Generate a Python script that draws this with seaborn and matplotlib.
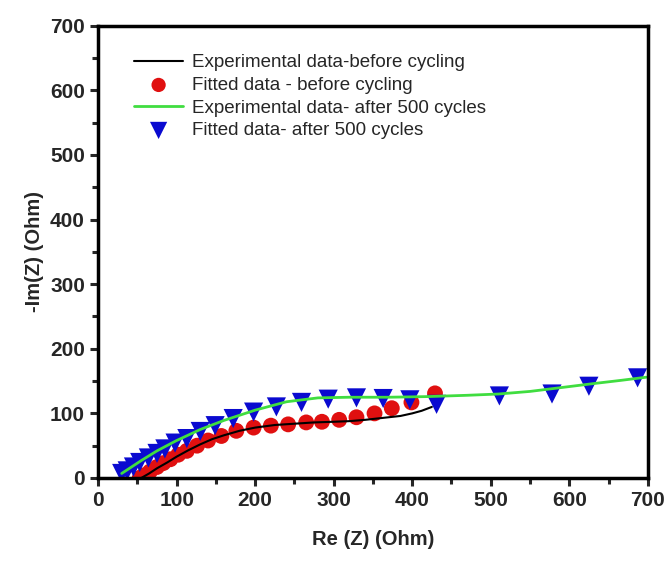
import matplotlib
matplotlib.use("Agg")
import matplotlib.pyplot as plt
import seaborn as sns
import pandas as pd
from matplotlib.ticker import MultipleLocator

# Experimental data - before cycling (black line)
exp_before_x = [55, 65, 75, 88, 100, 115, 130, 145, 160, 180, 200, 225, 250, 275, 300, 320, 340, 355, 370, 385, 400, 412, 425]
exp_before_y = [0, 7, 15, 24, 33, 43, 52, 60, 66, 73, 78, 82, 84, 86, 87, 88, 90, 92, 94, 96, 100, 104, 110]

# Fitted data - before cycling (red circles)
fit_before_x = [53, 58, 66, 75, 83, 92, 102, 113, 126, 140, 157, 176, 198, 220, 242, 265, 285, 307, 329, 352, 374, 399, 429]
fit_before_y = [0, 4, 10, 17, 23, 29, 36, 42, 50, 58, 65, 73, 78, 81, 83, 86, 87, 90, 94, 100, 108, 117, 131]

# Experimental data - after 500 cycles (green line)
exp_after_x = [30, 40, 55, 75, 100, 130, 160, 200, 240, 280, 320, 370, 420, 470, 510, 550, 590, 630, 665, 698]
exp_after_y = [7, 15, 27, 42, 58, 75, 89, 105, 118, 124, 125, 125, 126, 128, 130, 134, 140, 146, 151, 156]

# Fitted data - after 500 cycles (blue triangles)
fit_after_x = [30, 37, 45, 53, 64, 75, 85, 98, 113, 130, 149, 172, 198, 227, 259, 293, 329, 363, 397, 431, 511, 578, 625, 687]
fit_after_y = [7, 11, 17, 24, 31, 38, 45, 54, 61, 72, 81, 92, 102, 110, 117, 122, 124, 123, 121, 114, 127, 130, 142, 155]

plt.rcdefaults()
sns.set_style("white")
plt.rcParams["font.family"] = ["Liberation Sans", "DejaVu Sans"]

fig = plt.figure(figsize=(6.72, 5.61), dpi=100)
ax = fig.add_axes([0.146, 0.148, 0.818, 0.806])

df_eb = pd.DataFrame({"x": exp_before_x, "y": exp_before_y})
df_fb = pd.DataFrame({"x": fit_before_x, "y": fit_before_y})
df_ea = pd.DataFrame({"x": exp_after_x, "y": exp_after_y})
df_fa = pd.DataFrame({"x": fit_after_x, "y": fit_after_y})

sns.lineplot(data=df_eb, x="x", y="y", sort=False, color="black", lw=1.5,
             ax=ax, label="Experimental data-before cycling")
sns.scatterplot(data=df_fb, x="x", y="y", color="#e01010", marker="o", s=130,
                edgecolor="none", ax=ax, label="Fitted data - before cycling")
sns.lineplot(data=df_ea, x="x", y="y", sort=False, color="#40dd40", lw=2,
             ax=ax, label="Experimental data- after 500 cycles")
sns.scatterplot(data=df_fa, x="x", y="y", color="#0a0ad0", marker="v", s=190,
                edgecolor="none", ax=ax, label="Fitted data- after 500 cycles")

ax.set_xlim(0, 700)
ax.set_ylim(0, 700)
ax.xaxis.set_major_locator(MultipleLocator(100))
ax.xaxis.set_minor_locator(MultipleLocator(50))
ax.yaxis.set_major_locator(MultipleLocator(100))
ax.yaxis.set_minor_locator(MultipleLocator(50))
ax.tick_params(which="major", direction="out", length=6, width=2.2,
               labelsize=15, bottom=True, left=True)
ax.tick_params(which="minor", direction="out", length=4, width=2.2,
               bottom=True, left=True)
for lab in ax.get_xticklabels() + ax.get_yticklabels():
    lab.set_fontweight("bold")

for sp in ax.spines.values():
    sp.set_linewidth(2.5)
    sp.set_color("black")

ax.set_xlabel("Re (Z) (Ohm)", fontsize=14.5, fontweight="bold", labelpad=14)
ax.set_ylabel("-Im(Z) (Ohm)", fontsize=14.5, fontweight="bold", labelpad=4)

ax.legend(loc="upper left", bbox_to_anchor=(0.035, 0.975), frameon=False,
          fontsize=13.5, handlelength=2.6, handletextpad=0.5, labelspacing=0.3,
          markerscale=0.9)

fig.savefig("out.png", dpi=100)
